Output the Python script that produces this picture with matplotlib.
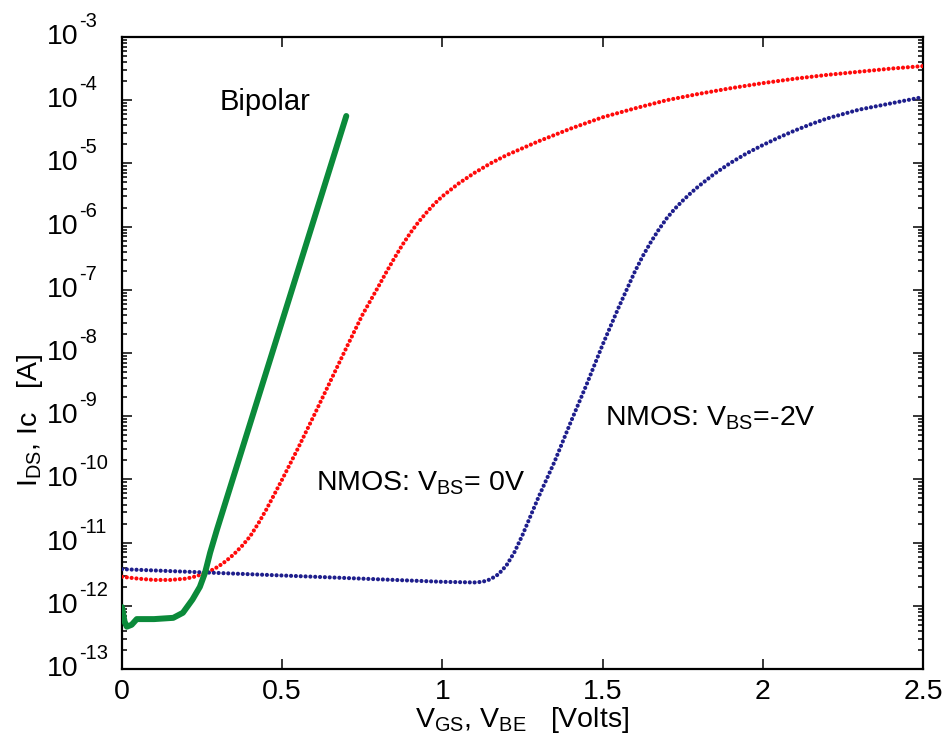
import numpy as np
import matplotlib
matplotlib.use("Agg")
import matplotlib.pyplot as plt
import matplotlib.transforms as mtransforms
from matplotlib.ticker import LogLocator, FixedLocator, NullFormatter

plt.rcParams['font.family'] = ['Liberation Sans', 'DejaVu Sans']
plt.rcParams['mathtext.fontset'] = 'custom'
plt.rcParams['mathtext.rm'] = 'Liberation Sans'
plt.rcParams['mathtext.it'] = 'Liberation Sans'
plt.rcParams['mathtext.default'] = 'regular'

# ---- data (log10 of current in A) ----
bip_v = [0.000, 0.008, 0.015, 0.030, 0.046, 0.100, 0.160, 0.190, 0.220, 0.243, 0.259,
         0.275, 0.296, 0.700]
bip_log = [-12.02, -12.25, -12.33, -12.30, -12.21, -12.21, -12.19, -12.11, -11.90, -11.70,
           -11.48, -11.16, -10.80, -4.25]

nmos0_v = [0.00, 0.05, 0.10, 0.15, 0.20, 0.225, 0.25, 0.275, 0.30, 0.325, 0.35, 0.375,
           0.40, 0.425, 0.45, 0.475, 0.50, 0.55, 0.60, 0.65, 0.70, 0.75, 0.80, 0.825,
           0.85, 0.875, 0.90, 0.925, 0.95, 0.975, 1.00, 1.05, 1.10, 1.15, 1.20, 1.30,
           1.40, 1.50, 1.60, 1.70, 1.80, 1.90, 2.00, 2.10, 2.20, 2.30, 2.40, 2.50]
nmos0_log = [-11.54, -11.57, -11.59, -11.59, -11.57, -11.54, -11.50, -11.45, -11.38, -11.29,
             -11.18, -11.05, -10.90, -10.70, -10.48, -10.24, -10.00, -9.50, -8.98, -8.45,
             -7.92, -7.40, -6.95, -6.72, -6.50, -6.29, -6.10, -5.93, -5.78, -5.64, -5.52,
             -5.32, -5.15, -5.00, -4.87, -4.65, -4.45, -4.27, -4.13, -4.00, -3.90, -3.81,
             -3.73, -3.66, -3.60, -3.55, -3.50, -3.46]

nmos2_v = [0.00, 0.10, 0.20, 0.30, 0.40, 0.50, 0.60, 0.70, 0.80, 0.90, 1.00, 1.10, 1.125,
           1.15, 1.175, 1.20, 1.225, 1.25, 1.275, 1.30, 1.35, 1.40, 1.45, 1.50, 1.55, 1.60,
           1.625, 1.65, 1.675, 1.70, 1.725, 1.75, 1.775, 1.80, 1.85, 1.90, 1.95, 2.00, 2.05,
           2.10, 2.15, 2.20, 2.25, 2.30, 2.35, 2.40, 2.45, 2.50]
nmos2_log = [-11.42, -11.44, -11.46, -11.48, -11.50, -11.52, -11.54, -11.56, -11.58, -11.60,
             -11.62, -11.63, -11.62, -11.58, -11.50, -11.36, -11.15, -10.88, -10.58, -10.28,
             -9.72, -9.10, -8.50, -7.87, -7.28, -6.72, -6.47, -6.25, -6.05, -5.87, -5.72,
             -5.59, -5.47, -5.36, -5.16, -4.99, -4.84, -4.71, -4.59, -4.48, -4.38, -4.29,
             -4.22, -4.15, -4.10, -4.05, -4.00, -3.95]

y_exponents = list(range(-13, -2))
x_ticks = [0, 0.5, 1, 1.5, 2, 2.5]
x_ticklabels = ["0", "0.5", "1", "1.5", "2", "2.5"]

# ---- figure ----
fig = plt.figure(figsize=(9.48, 7.40), dpi=100)
ax = fig.add_axes([0.1287, 0.0959, 0.9736 - 0.1287, 0.95 - 0.0959])

dots = (0, (0.01, 1.15))
ax.plot(nmos0_v, 10.0 ** np.array(nmos0_log), color='#ff0a0a', lw=3.0,
        linestyle=dots, dash_capstyle='round', zorder=3)
ax.plot(nmos2_v, 10.0 ** np.array(nmos2_log), color='#1e1e8c', lw=3.0,
        linestyle=dots, dash_capstyle='round', zorder=3)
ax.plot(bip_v, 10.0 ** np.array(bip_log), color='#0b8a3a', lw=4.3,
        solid_capstyle='round', solid_joinstyle='round', zorder=4)

ax.set_yscale('log')
ax.set_xlim(0, 2.5)
ax.set_ylim(1e-13, 1e-3)

ax.yaxis.set_major_locator(FixedLocator([10.0 ** e for e in y_exponents]))
ax.yaxis.set_major_formatter(NullFormatter())
ax.yaxis.set_minor_locator(LogLocator(base=10, subs=np.arange(2, 10), numticks=30))
ax.yaxis.set_minor_formatter(NullFormatter())
ax.xaxis.set_major_locator(FixedLocator(x_ticks))
ax.set_xticklabels(x_ticklabels)

ax.tick_params(which='both', direction='in', top=True, right=True, width=1.1)
ax.tick_params(which='major', length=7, labelsize=20.5, pad=7)
ax.tick_params(which='minor', length=3.5)
for s in ax.spines.values():
    s.set_linewidth(1.6)

# y tick labels: "10" with raised exponent
ytrans = ax.get_yaxis_transform()
exp_trans = mtransforms.offset_copy(ytrans, fig=fig, x=1, y=10, units='dots')
x_base = (78 - 122) / 801.0
for e in y_exponents:
    ax.text(x_base, 10.0 ** e, "10", transform=ytrans, ha='right', va='center',
            fontsize=20.5, clip_on=False)
    ax.text(x_base, 10.0 ** e, "%d" % e, transform=exp_trans, ha='left', va='baseline',
            fontsize=14.5, clip_on=False)

ax.set_xlabel(r"$V_{GS}$, $V_{BE}$   [Volts]", fontsize=20.5, labelpad=0)
ax.set_ylabel(r"$I_{DS}$, Ic   [A]", fontsize=20.5)
ax.yaxis.set_label_coords(-0.096, 0.394)

ax.text(0.306, 10 ** -4.03, "Bipolar", fontsize=21, va='center', ha='left')
ax.text(0.605, 10 ** -10.06, r"NMOS: $V_{BS}$= 0V", fontsize=20.5, va='center', ha='left')
ax.text(1.507, 10 ** -9.03, r"NMOS: $V_{BS}$=-2V", fontsize=20.5, va='center', ha='left')

fig.savefig("out.png", dpi=100)
